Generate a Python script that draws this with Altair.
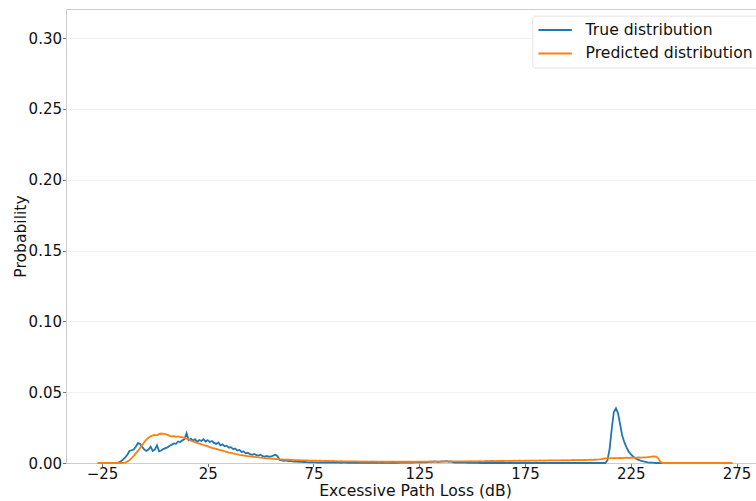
import altair as alt
import pandas as pd

FONT = "DejaVu Sans"

# Excessive path loss grid (dB), 1 dB steps
loss_db = list(range(-27, 274))

# True distribution, split into three segments
true_low = [
    0, 0, 0, 0, 0, 0, 0, 0, 0.0001,
    .0002, .0005, .0012, .0025, .004, .0058, .0085, .009, .0095, .0115,
    .014, .0135, .0115, .0095, .0085, .0095, .0115, .0085, .0095, .0125,
    .0082, .0088, .0098, .0105, .011, .0122, .013, .0138, .0135, .0152,
    .0148, .016, .0168, .021, .016, .0172, .0158, .0168, .015, .0162,
    .0155, .0168, .0152, .0162, .0148, .0155, .0142, .0135, .0145, .0125,
    .0132, .0118, .0122, .0108, .0112, .0098, .0102, .0088, .0092, .0078,
    .0082, .0068, .0072, .0062, .0058, .0064, .0055, .0052, .0058, .0048,
    .0045, .005, .0044, .0046, .0052, .0058, .0048, .0022,
]
true_mid = [
    .0018, .0016, .0018, .0014, .0015, .0012, .001, .0012, .0008, .0009,
    .0007, .0008, .0006, .0005, .0006, .0004, .0004, .0003, .0004, .0003,
    .0003, .0002, .0003, .0002, .0002, .0003, .0002, .0002, .0001, .0002,
    .0002, .0001, .0002, .0001, .0001, .0002, .0001, .0001, .0001, .0001,
    .0001, .0001, .0002, .0001, .0001, .0001, .0001, .0002, .0001, .0001,
    .0001, .0001, .0001, .0002, .0001, .0001, .0002, .0002, .0003, .0003,
    .0003, .0004, .0003, .0004, .0005, .0004, .0005, .0006, .0005, .0007,
    .0009, .0008, .0011, .0009, .0007, .001, .0012, .0011, .0013, .0009,
    .0011, .0004, .0003, .0003, .0002, .0002, .0002, .0002, .0001, .0001,
    .0001, .0001, .0001, .0001, 0, 0, 0, 0, 0, 0,
    0, 0, 0, 0, 0, 0, 0, 0, 0, 0,
    0, 0, 0, 0, 0, 0, 0, 0, 0, 0,
    0, 0, 0, 0, 0, 0, 0, 0, 0, 0,
    0, 0, 0, 0, 0, 0, 0, 0, 0, 0,
]
true_high = [
    0, 0, 0, 0, 0, 0, 0, 0, 0, 0, 0, 0, 0, 0,
    .002, .01, .024, .036, .0386, .035, .027, .019, .0145, .011,
    .008, .0062, .0047, .0036, .0027, .002, .0015, .0011, .0008, .0005,
    .0003, .0002, .0001,
    0, 0, 0, 0, 0, 0, 0, 0, 0, 0, 0, 0, 0, 0, 0, 0, 0, 0, 0,
    0, 0, 0, 0, 0, 0, 0, 0, 0, 0, 0, 0, 0, 0, 0, 0, 0, 0,
]

# Predicted distribution, split into three segments
pred_low = [
    0, 0, 0, 0, 0, 0, 0, 0, 0, 0,
    0, 0, .0001, .0003, .001, .002, .0035, .005, .0068, .0085,
    .0105, .0125, .0148, .0165, .0178, .0188, .0195, .0198, .0195, .0205,
    .0208, .0206, .0204, .0198, .0192, .0188, .019, .0185, .0188, .0182,
    .0182, .0178, .0172, .0165, .0158, .0152, .0147, .0142, .0137, .0132,
    .0127, .0122, .0117, .0112, .0107, .0103, .0099, .0095, .0091, .0087,
    .0082, .0078, .0074, .0071, .0068, .0064, .0061, .0058, .0056, .0053,
    .0051, .0049, .0047, .0045, .0043, .0041, .0039, .0038, .0036, .0035,
    .0033, .0032, .0031, .003, .0028, .0027, .0026,
]
pred_mid = [
    .0025, .0024, .0024, .0023, .0022, .0022, .0021, .002, .002, .0019,
    .0019, .0018, .0018, .0017, .0017, .0016, .0016, .0015, .0016, .0015,
    .0014, .0015, .0014, .0013, .0014, .0013, .0013, .0012, .0013, .0012,
    .0012, .0011, .0012, .0011, .0012, .0011, .0011, .001, .0011, .001,
    .0011, .001, .001, .0011, .001, .001, .0009, .001, .001, .0009,
    .001, .0009, .001, .001, .0009, .001, .0009, .0009, .001, .0009,
    .001, .0009, .0009, .001, .0009, .001, .001, .0009, .001, .001,
    .001, .0011, .001, .001, .0011, .001, .0011, .001, .0011, .0011,
    .0011, .0011, .0012, .0011, .0012, .0011, .0012, .0012, .0012, .0013,
    .0012, .0013, .0012, .0013, .0013, .0012, .0013, .0014, .0013, .0014,
    .0014, .0013, .0014, .0015, .0014, .0014, .0015, .0015, .0014, .0015,
    .0016, .0015, .0016, .0016, .0015, .0016, .0017, .0016, .0017, .0017,
    .0016, .0017, .0018, .0017, .0018, .0017, .0018, .0018, .0019, .0018,
    .0019, .0018, .0019, .002, .0019, .002, .0019, .002, .0021, .002,
]
pred_high = [
    .0021, .002, .0021, .0022, .0021, .0022, .0023, .0022, .0023, .0024,
    .0025, .0027, .003, .0032, .0034, .0033, .0034, .0035, .0034, .0035,
    .0036, .0035, .0036, .0037, .0036, .0037, .0038, .0037, .0038, .0039,
    .0038, .0039, .004, .0041, .0043, .0045, .0047, .0045, .0033, .0008,
    0, 0, 0, 0, 0, 0, 0, 0, 0, 0, 0, 0, 0, 0, 0, 0, 0,
    0, 0, 0, 0, 0, 0, 0, 0, 0, 0, 0, 0, 0, 0, 0, 0, 0,
]

series_names = ["True distribution", "Predicted distribution"]
series_colors = ["#1f77b4", "#ff7f0e"]
x_ticks = [-25, 25, 75, 125, 175, 225, 275]
y_ticks = [0.0, 0.05, 0.10, 0.15, 0.20, 0.25, 0.30]

true_dist = true_low + true_mid + true_high
pred_dist = pred_low + pred_mid + pred_high

df = pd.DataFrame({
    "loss": loss_db + loss_db,
    "prob": true_dist + pred_dist,
    "series": [series_names[0]] * len(loss_db) + [series_names[1]] * len(loss_db),
})

x_scale = alt.Scale(domain=[-42, 284.2], nice=False, zero=False)
y_scale = alt.Scale(domain=[0, 0.3205], nice=False)
color = alt.Color(
    "series:N",
    scale=alt.Scale(domain=series_names, range=series_colors),
    legend=alt.Legend(
        title=None, orient="none", legendX=466.3, legendY=6.6,
        symbolType="M-1,0L3,0", symbolSize=279, symbolStrokeWidth=2,
        labelFontSize=15.6, labelFont=FONT, labelColor="#111", labelLimit=400,
        labelExpr="datum.label + '      '",
        labelOffset=29.3, rowPadding=4.3, padding=5,
        fillColor="white", strokeColor="#e3e3e3", cornerRadius=3,
    ),
)

y_axis = alt.Axis(
    values=y_ticks, format=".2f", title="Probability",
    grid=True, gridColor="#f2f2f2", domain=True, domainColor="#cccccc",
    tickSize=3.5, tickColor="#777", labelPadding=1, titlePadding=0,
)

blue = alt.Chart(df).transform_filter(
    alt.datum.series == series_names[0]
).mark_line(strokeWidth=1.8).encode(
    x=alt.X(
        "loss:Q", scale=x_scale,
        axis=alt.Axis(
            values=x_ticks, title="Excessive Path Loss (dB)", grid=False,
            domain=True, domainColor="#cccccc", tickSize=3.5, tickColor="#777",
            labelPadding=0, titlePadding=1.5, titleX=349,
        ),
    ),
    y=alt.Y("prob:Q", scale=y_scale, axis=y_axis),
    color=color,
)

orange = alt.Chart(df).transform_filter(
    alt.datum.series == series_names[1]
).mark_line(strokeWidth=1.8).encode(
    x=alt.X(
        "loss:Q", scale=x_scale,
        axis=alt.Axis(
            orient="top", labels=False, ticks=False, title=None, grid=False,
            domain=True, domainColor="#cccccc",
        ),
    ),
    y=alt.Y("prob:Q", scale=y_scale, axis=y_axis),
    color=color,
)

chart = alt.layer(blue, orange).resolve_axis(x="independent").properties(
    width=690, height=454,
    autosize=alt.AutoSizeParams(type="none"),
    padding={"left": 66, "top": 9, "right": 0, "bottom": 38},
).configure(font=FONT).configure_view(stroke=None).configure_axis(
    labelFont=FONT, titleFont=FONT, labelFontSize=15, titleFontSize=15.6,
    labelColor="#111", titleColor="#111", titleFontWeight="normal",
)

chart.save("out.html", embed_options={"renderer": "svg", "actions": False})
